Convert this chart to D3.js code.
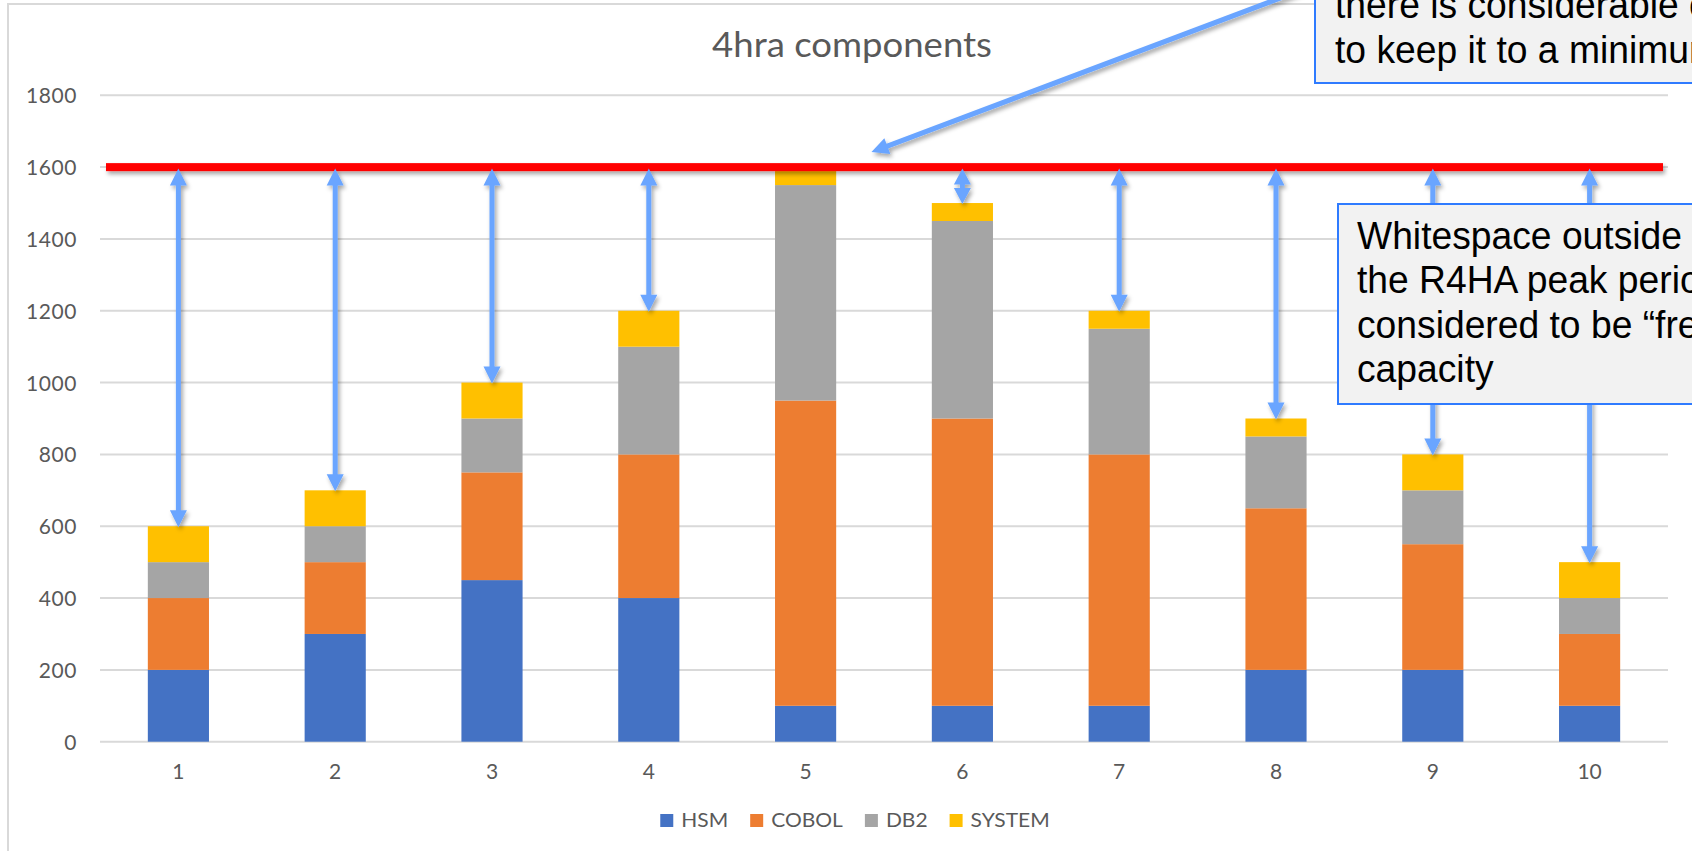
<!DOCTYPE html>
<html>
<head>
<meta charset="utf-8">
<script src="https://cdn.jsdelivr.net/npm/d3@7"></script>
<style>
  html, body { margin: 0; padding: 0; background: #ffffff; }
  svg { display: block; }
</style>
</head>
<body>
<svg id="chart" width="1692" height="851"></svg>
<script>
// ---- data ----
const categories = ["1", "2", "3", "4", "5", "6", "7", "8", "9", "10"];
const seriesNames = ["HSM", "COBOL", "DB2", "SYSTEM"];
const hsm    = [200, 300, 450, 400, 100, 100, 100, 200, 200, 100];
const cobol  = [200, 200, 300, 400, 850, 800, 700, 450, 350, 200];
const db2    = [100, 100, 150, 300, 600, 550, 350, 200, 150, 100];
const system = [100, 100, 100, 100,  50,  50,  50,  50, 100, 100];
const capacity = 1600;
const yTicks = [0, 200, 400, 600, 800, 1000, 1200, 1400, 1600, 1800];
const titleText = "4hra components";
const noteTop = ["there is considerable cost,", "to keep it to a minimum"];
const noteSide = ["Whitespace outside of", "the R4HA peak period is", "considered to be \u201cfree\u201d", "capacity"];

// ---- styling ----
const colors = { HSM: "#4472C4", COBOL: "#ED7D31", DB2: "#A5A5A5", SYSTEM: "#FFC000" };
const arrowColor = "#6AA5FF";
const chartFont = "Lato, 'Open Sans', sans-serif";
const noteFont = "'Liberation Sans', Arial, sans-serif";

const svg = d3.select("#chart");
const W = 1692, H = 851;
const plot = { left: 100, right: 1668, top: 95.3, bottom: 741.7 };

// soft drop shadow, in user space so thin shapes keep their region
const defs = svg.append("defs");
defs.append("filter").attr("id", "shadow")
  .attr("filterUnits", "userSpaceOnUse")
  .attr("x", 0).attr("y", -50).attr("width", W).attr("height", H + 100)
  .append("feDropShadow")
  .attr("dx", 2).attr("dy", 3).attr("stdDeviation", 2)
  .attr("flood-color", "#000").attr("flood-opacity", 0.35);

svg.append("rect").attr("width", W).attr("height", H).attr("fill", "#fff");

// chart frame
svg.append("rect")
  .attr("x", 8).attr("y", 4).attr("width", 1720).attr("height", 900)
  .attr("fill", "none").attr("stroke", "#D9D9D9").attr("stroke-width", 2);

// ---- scales ----
const x = d3.scaleBand().domain(categories)
  .range([plot.left, plot.right]).paddingInner(0.61).paddingOuter(0.305);
const y = d3.scaleLinear().domain([0, 1800]).range([plot.bottom, plot.top]);
const color = d3.scaleOrdinal().domain(seriesNames).range(seriesNames.map(s => colors[s]));

const rows = categories.map((c, i) => ({
  cat: c, HSM: hsm[i], COBOL: cobol[i], DB2: db2[i], SYSTEM: system[i]
}));
const stacked = d3.stack().keys(seriesNames)(rows);

// ---- gridlines ----
svg.append("g").selectAll("line").data(yTicks).join("line")
  .attr("x1", plot.left).attr("x2", plot.right)
  .attr("y1", d => y(d)).attr("y2", d => y(d))
  .attr("stroke", "#D9D9D9").attr("stroke-width", 2);

// ---- y axis labels ----
const yAxis = d3.axisLeft(y).tickValues(yTicks).tickFormat(d3.format("d")).tickSize(0).tickPadding(0);
const yg = svg.append("g").attr("transform", `translate(${plot.left - 23},0)`).call(yAxis);
yg.select(".domain").remove();
yg.selectAll("text")
  .attr("font-family", chartFont).attr("font-size", 21).attr("fill", "#595959")
  .attr("letter-spacing", 0.6)
  .attr("dy", "0.36em");

// ---- bars ----
svg.append("g").selectAll("g").data(stacked).join("g")
  .attr("fill", d => color(d.key))
  .selectAll("rect").data(d => d).join("rect")
  .attr("x", d => x(d.data.cat))
  .attr("width", x.bandwidth())
  .attr("y", d => y(d[1]))
  .attr("height", d => y(d[0]) - y(d[1]));

// ---- x axis labels ----
const xAxis = d3.axisBottom(x).tickSize(0).tickPadding(0);
const xg = svg.append("g").attr("transform", `translate(0,${plot.bottom})`).call(xAxis);
xg.select(".domain").remove();
xg.selectAll("text")
  .attr("font-family", chartFont).attr("font-size", 21).attr("fill", "#595959")
  .attr("dy", null).attr("y", 37);

// ---- title ----
svg.append("text")
  .attr("transform", "translate(852,57) scale(1.075,1)")
  .attr("text-anchor", "middle")
  .attr("font-family", chartFont).attr("font-size", 34).attr("fill", "#595959")
  .text(titleText);

// ---- legend ----
const legend = svg.append("g");
const legendStretch = 1.05;
const legendGap = 22;
let lx = 0;
seriesNames.forEach(name => {
  const g = legend.append("g").attr("transform", `translate(${lx},0)`);
  g.append("rect").attr("x", 0).attr("y", -13).attr("width", 13).attr("height", 13)
    .attr("fill", colors[name]);
  const t = g.append("text").attr("transform", `translate(21,0) scale(${legendStretch},1)`)
    .attr("font-family", chartFont).attr("font-size", 20).attr("fill", "#595959")
    .text(name);
  lx += 21 + t.node().getComputedTextLength() * legendStretch + legendGap;
});
const legendWidth = lx - legendGap;
legend.attr("transform", `translate(${855 - legendWidth / 2},827)`);

// ---- capacity line ----
svg.append("rect")
  .attr("x", plot.left + 6).attr("width", plot.right - plot.left - 11)
  .attr("y", y(capacity) - 4).attr("height", 8)
  .attr("fill", "#FF0000")
  .attr("filter", "url(#shadow)");

// ---- arrow helpers ----
const shaftW = 5, headW = 17, headL = 17;
function arrowPath(x1, y1, x2, y2, doubleHead) {
  // arrow from (x1,y1) to (x2,y2), head at the end (and start if doubleHead)
  const dx = x2 - x1, dy = y2 - y1;
  const len = Math.hypot(dx, dy);
  const ux = dx / len, uy = dy / len;      // along
  const nx = -uy, ny = ux;                 // normal
  const hl = Math.min(headL, doubleHead ? len * 0.45 : len * 0.8);
  const hw = headW / 2, sw = shaftW / 2;
  const P = (a, b) => [x1 + ux * a + nx * b, y1 + uy * a + ny * b];
  let pts;
  if (doubleHead) {
    pts = [P(0, 0), P(hl, hw), P(hl, sw), P(len - hl, sw), P(len - hl, hw), P(len, 0),
           P(len - hl, -hw), P(len - hl, -sw), P(hl, -sw), P(hl, -hw)];
  } else {
    pts = [P(0, sw), P(len - hl, sw), P(len - hl, hw), P(len, 0),
           P(len - hl, -hw), P(len - hl, -sw), P(0, -sw)];
  }
  return "M" + pts.map(p => p[0].toFixed(2) + "," + p[1].toFixed(2)).join("L") + "Z";
}

// whitespace arrows between each bar top and capacity
const totals = rows.map(r => seriesNames.reduce((s, k) => s + r[k], 0));
const arrows = svg.append("g").attr("filter", "url(#shadow)");
arrows.selectAll("path").data(rows.filter((r, i) => totals[i] < capacity)).join("path")
  .attr("d", r => {
    const i = categories.indexOf(r.cat);
    const cx = x(r.cat) + x.bandwidth() / 2;
    return arrowPath(cx, y(capacity) + 1.5, cx, y(totals[i]) + 1, true);
  })
  .attr("fill", arrowColor);

// pointer arrow from the upper note to the capacity line
const tipX = x("5") + x.bandwidth() / 2 + 0.42 * x.step();
const tipY = y(capacity) - 15;
const slope = -0.377;
const startX = 1340, startY = tipY + slope * (startX - tipX);
arrows.append("path")
  .attr("d", arrowPath(startX, startY, tipX, tipY, false))
  .attr("fill", arrowColor);

// ---- note boxes ----
function noteBox(bx, by, bw, bh, lines, tx, ty0, lh) {
  const g = svg.append("g");
  g.append("rect").attr("x", bx).attr("y", by).attr("width", bw).attr("height", bh)
    .attr("fill", "#F2F2F2").attr("stroke", "#2F7BFF").attr("stroke-width", 2);
  lines.forEach((ln, i) => {
    g.append("text")
      .attr("transform", `translate(${tx},${ty0 + i * lh}) scale(0.955,1)`)
      .attr("font-family", noteFont).attr("font-size", 39).attr("fill", "#000")
      .text(ln);
  });
}
noteBox(1315, -60, 500, 143, noteTop, 1335, 17.5, 45);
noteBox(1338, 204, 500, 200, noteSide, 1357, 248.5, 44.5);
</script>
</body>
</html>
